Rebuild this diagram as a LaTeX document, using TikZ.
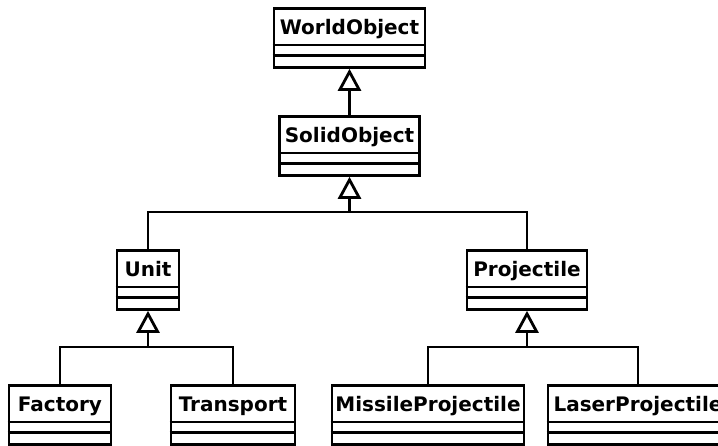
\documentclass[tikz,border=0pt]{standalone}
\usepackage{fontspec}
\setmainfont{DejaVu Sans}
\usetikzlibrary{arrows.meta,calc}

\tikzset{
  classbox/.style={draw=black, line width=2.8pt, fill=white, rectangle,
    minimum height=59pt, inner sep=0pt, anchor=north},
  classname/.style={font=\fontsize{20}{24}\selectfont\bfseries, anchor=base, inner sep=0pt},
  edge/.style={draw=black, line width=2.8pt},
  gen/.style={edge, -{Triangle[open, length=22pt, width=23pt, line width=2.8pt]}},
}

% one UML class: #1 node name, #2 centre x, #3 top y, #4 width, #5 class name
\newcommand{\umlclass}[5]{%
  \node[classbox, minimum width=#4pt] (#1) at (#2,#3) {};
  \node[classname] (#1-name) at ($(#1.north)+(0,27)$) {#5};
  \draw[edge] ($(#1.north west)+(0,38)$) -- ($(#1.north east)+(0,38)$);
  \draw[edge] ($(#1.north west)+(0,48.5)$) -- ($(#1.north east)+(0,48.5)$);
}

\begin{document}
\begin{tikzpicture}[x=1pt, y=-1pt]
\useasboundingbox (0,0) rectangle (718,445);

\umlclass{world}{349.5}{7}{151}{WorldObject}
\umlclass{solid}{349.5}{115}{140}{SolidObject}
\umlclass{unit}{148}{249}{62}{Unit}
\umlclass{proj}{527}{249}{120}{Projectile}
\umlclass{factory}{60}{384}{102}{Factory}
\umlclass{transport}{233}{384}{124}{Transport}
\umlclass{missile}{428}{384}{192}{MissileProjectile}
\umlclass{laser}{638}{384}{180}{LaserProjectile}

% SolidObject is a WorldObject
\draw[gen] (solid.north) -- (world.south);

% Unit and Projectile are SolidObjects
\coordinate (j1) at (349.5,212);
\draw[edge] (unit.north) |- (j1) -| (proj.north);
\draw[gen] (j1) -- (solid.south);

% Factory and Transport are Units
\coordinate (j2) at (148,347);
\draw[edge] (factory.north) |- (j2) -| (transport.north);
\draw[gen] (j2) -- (unit.south);

% MissileProjectile and LaserProjectile are Projectiles
\coordinate (j3) at (527,347);
\draw[edge] (missile.north) |- (j3) -| (laser.north);
\draw[gen] (j3) -- (proj.south);
\end{tikzpicture}
\end{document}
